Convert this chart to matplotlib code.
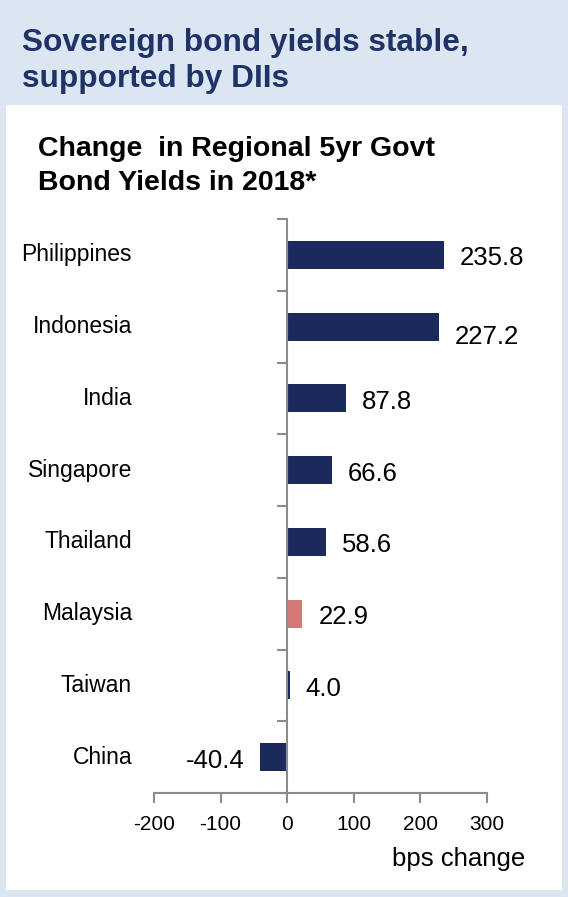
import matplotlib

matplotlib.use("Agg")
import matplotlib.pyplot as plt
from matplotlib.patches import Rectangle

plt.rcParams["font.family"] = ["Liberation Sans", "DejaVu Sans"]

countries = ["Philippines", "Indonesia", "India", "Singapore", "Thailand",
             "Malaysia", "Taiwan", "China"]
bps_change = [235.8, 227.2, 87.8, 66.6, 58.6, 22.9, 4.0, -40.4]
highlight = "Malaysia"
x_ticks = [-200, -100, 0, 100, 200, 300]

NAVY = "#1b2a5a"
SALMON = "#d27a76"
FRAME_BG = "#dce6f2"
AXIS_GREY = "#8c8c8c"

W, H = 568, 897
fig = plt.figure(figsize=(W / 100, H / 100), dpi=100)
fig.patch.set_facecolor(FRAME_BG)


def px(x0, y0, x1, y1):
    """pixel box (top-left origin) -> figure-fraction rect"""
    return [x0 / W, 1 - y1 / H, (x1 - x0) / W, (y1 - y0) / H]


# white content panel under the banner, kept behind the axes
fig.patches.append(Rectangle((6 / W, 1 - 890 / H), (562 - 6) / W, (890 - 105) / H,
                             transform=fig.transFigure, facecolor="white",
                             edgecolor="none", zorder=-5))

fig.text(22 / W, 1 - 61 / H, "Sovereign bond yields stable,\nsupported by DIIs",
         color="#1f3366", fontsize=22.8, fontweight="bold", va="center",
         linespacing=1.3)
fig.text(38 / W, 1 - 166 / H, "Change  in Regional 5yr Govt\nBond Yields in 2018*",
         color="black", fontsize=20.5, fontweight="bold", va="center",
         linespacing=1.38)

ax = fig.add_axes(px(154, 219, 487, 793))
ax.set_facecolor("none")
ypos = list(range(len(countries)))
colors = [SALMON if c == highlight else NAVY for c in countries]
ax.barh(ypos, bps_change, height=0.39, color=colors, zorder=2)

ax.set_xlim(-200, 300)
ax.set_ylim(len(countries) - 0.5, -0.5)
ax.set_xticks(x_ticks)
ax.set_xticklabels([str(t) for t in x_ticks])
ax.set_yticks([i - 0.5 for i in range(len(countries) + 1)])
ax.set_yticklabels([])
ax.tick_params(axis="y", length=7, width=1.5, color=AXIS_GREY, direction="out")
ax.tick_params(axis="x", length=7, width=1.5, color=AXIS_GREY, direction="out",
               labelsize=15, pad=9)

# category axis sits on the zero line
ax.spines["left"].set_position(("data", 0))
ax.spines["left"].set_color(AXIS_GREY)
ax.spines["left"].set_linewidth(1.5)
ax.spines["left"].set_zorder(3)
for s in ("top", "right"):
    ax.spines[s].set_visible(False)
ax.spines["bottom"].set_color(AXIS_GREY)
ax.spines["bottom"].set_linewidth(1.5)

for i, (name, v) in enumerate(zip(countries, bps_change)):
    ax.text(-200 - 33, i, name, ha="right", va="center", fontsize=16.5)
    dy = 0.15 if name == "Indonesia" else 0.05
    if v >= 0:
        ax.text(v + 24, i + dy, f"{v:.1f}", ha="left", va="center", fontsize=18.5)
    else:
        ax.text(v - 24, i + dy, f"{v:.1f}", ha="right", va="center", fontsize=18.5)

fig.text(525 / W, 1 - 859 / H, "bps change", ha="right", va="center", fontsize=18.5)

fig.savefig("out.png", dpi=100, facecolor=fig.get_facecolor())
